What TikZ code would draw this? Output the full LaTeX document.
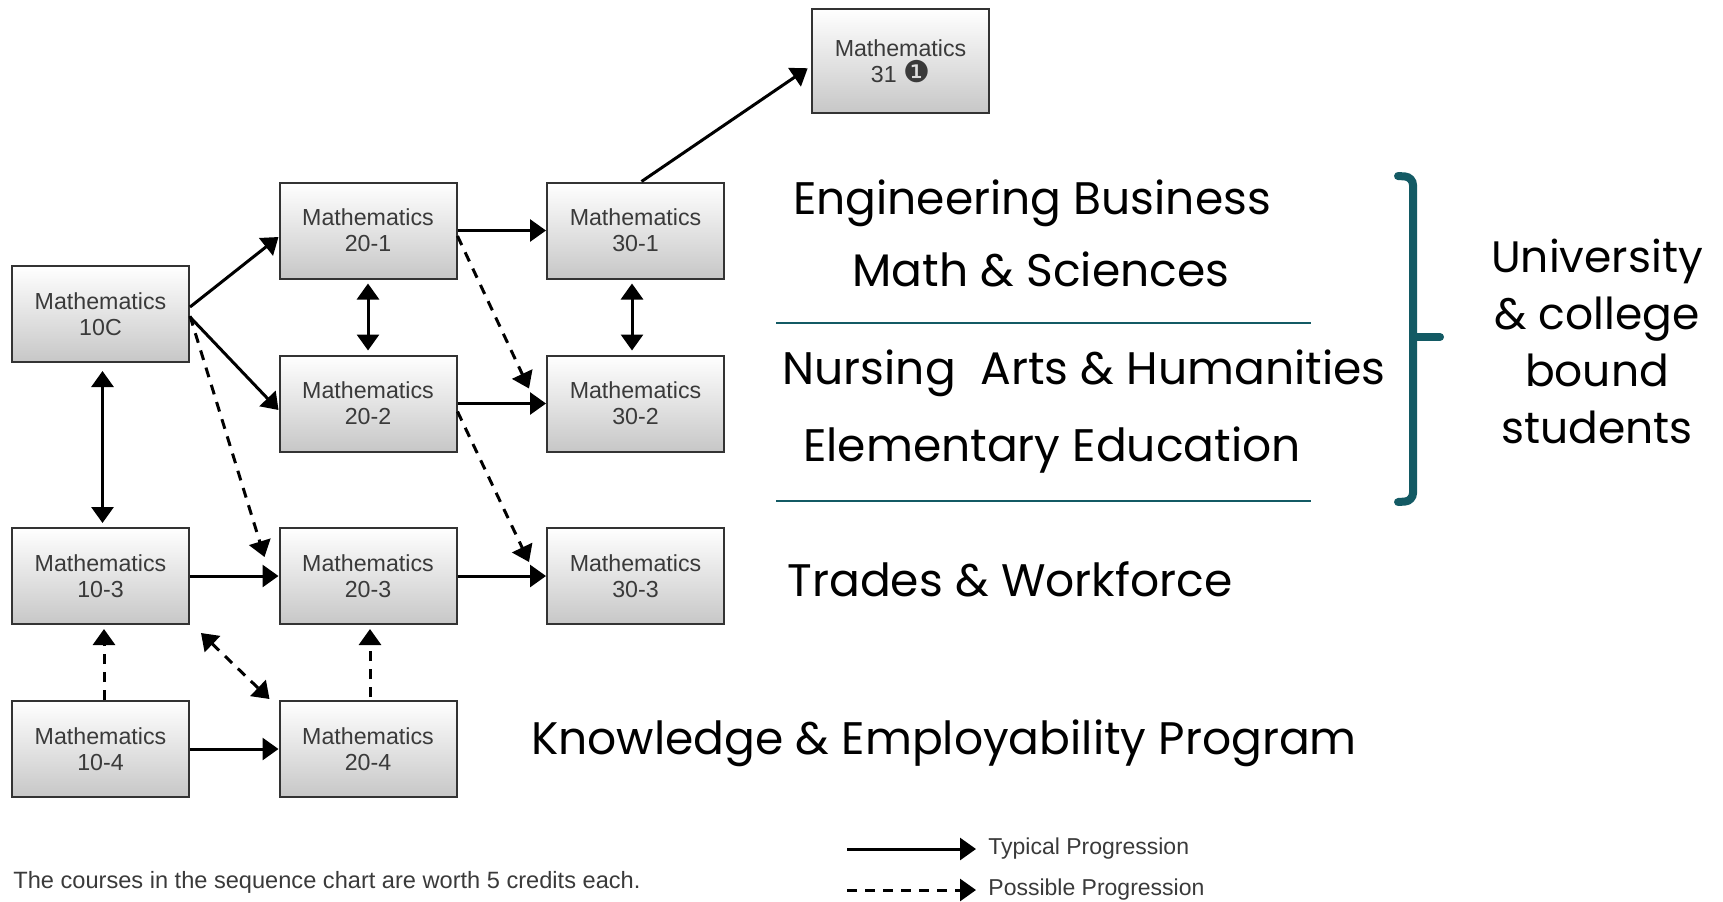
\documentclass[tikz,border=0pt]{standalone}
\usepackage{fontspec}
\setmainfont{Liberation Sans}
\newfontfamily\gothic{Poppins}
\newfontfamily\symb{DejaVu Sans}
\usetikzlibrary{arrows.meta}
\definecolor{bracketteal}{HTML}{135A64}
\definecolor{boxtext}{HTML}{3A3A3A}
\begin{document}
\begin{tikzpicture}[x=0.5pt,y=-0.5pt,
	>={Triangle[length=8pt,width=11pt]},
	course/.style={draw=black!80,line width=1pt,top color=white,bottom color=black!22,
		minimum width=88.5pt,minimum height=48pt,inner sep=0pt,align=center,
		text=boxtext,font=\fontsize{11.6}{13}\selectfont},
	typical/.style={line width=1.5pt,->},
	possible/.style={typical,dash pattern=on 5pt off 4pt},
	stream/.style={inner sep=0pt,font=\gothic\fontsize{22.8}{26}\selectfont},
	legend/.style={anchor=west,inner sep=0pt,text=boxtext,font=\fontsize{11.5}{13}\selectfont}]
\useasboundingbox (0,0) rectangle (1723,901);
% course boxes
\node[course] (m10c) at (100.5,314) {Mathematics\\10C};
\node[course] (m103) at (100.5,576) {Mathematics\\10-3};
\node[course] (m104) at (100.5,749) {Mathematics\\10-4};
\node[course] (m201) at (368,230.5) {Mathematics\\20-1};
\node[course] (m202) at (368,403.5) {Mathematics\\20-2};
\node[course] (m203) at (368,576) {Mathematics\\20-3};
\node[course] (m204) at (368,749) {Mathematics\\20-4};
\node[course] (m301) at (635.5,230.5) {Mathematics\\30-1};
\node[course] (m302) at (635.5,403.5) {Mathematics\\30-2};
\node[course] (m303) at (635.5,576) {Mathematics\\30-3};
\node[course,minimum height=52pt] (m31) at (900.5,61)
	{Mathematics\\31 {\symb\fontsize{15}{13}\selectfont ❶}};
% typical progression
\draw[typical] ([yshift=3.5pt]m10c.east) -- ([yshift=-3.25pt]m201.west);
\draw[typical] ([yshift=-1.5pt]m10c.east) -- ([yshift=-3.25pt]m202.west);
\draw[typical,<->,shorten <=2pt,shorten >=2pt] (m201.south) -- (m202.north);
\draw[typical,<->,shorten <=4pt,shorten >=2pt] ([xshift=1pt]m10c.south) -- ([xshift=1pt]m103.north);
\draw[typical] (m201.east) -- (m301.west);
\draw[typical] (m202.east) -- (m302.west);
\draw[typical,<->,shorten <=2pt,shorten >=2pt] ([xshift=-1.75pt]m301.south) -- ([xshift=-1.75pt]m302.north);
\draw[typical,shorten >=2pt] ([xshift=3pt]m301.north) -- ([yshift=-2.5pt]m31.west);
\draw[typical] (m103.east) -- (m203.west);
\draw[typical] (m203.east) -- (m303.west);
\draw[typical] (m104.east) -- (m204.west);
% possible progression
\draw[possible] ([yshift=-1pt]m10c.east) -- ([shift={(-7pt,-15pt)}]m203.north west);
\draw[possible] ([yshift=-2.75pt]m201.east) -- ([shift={(-8.5pt,-17pt)}]m302.north west);
\draw[possible] ([yshift=-4pt]m202.east) -- ([shift={(-8.5pt,-17.5pt)}]m303.north west);
\draw[possible,shorten >=2pt] ([xshift=1.75pt]m104.north) -- ([xshift=1.75pt]m103.south);
\draw[possible,shorten >=2pt] ([xshift=1pt,yshift=1.5pt]m204.north) -- ([xshift=1pt]m203.south);
\draw[possible,<->] ([shift={(5.5pt,-4pt)}]m103.south east) -- ([shift={(-4.5pt,0.5pt)}]m204.north west);
% pathways
\node[stream] (eng) at (1032,203) {Engineering Business};
\node[stream] (sci) at (1041,269) {Math \& Sciences};
\node[stream] (nurs) at (1084,373) {Nursing\ \ Arts \& Humanities};
\node[stream] (elem) at (1052,450) {Elementary Education};
\node[stream] (trades) at (1010,579) {Trades \& Workforce};
\node[stream] (kep) at (944,743) {Knowledge \& Employability Program};
\node[stream,align=center,font=\gothic\fontsize{22}{28.5}\selectfont] (uni) at (1597,341)
	{University\\\& college\\bound\\students};
\draw[bracketteal,line width=1pt] (776,323) -- (1311,323);
\draw[bracketteal,line width=1pt] (776,501) -- (1311,501);
\draw[bracketteal,line width=4pt,line cap=round,rounded corners=4pt]
	(1398,176) -- (1413,177) -- (1413,501) -- (1398,502);
\draw[bracketteal,line width=4pt,line cap=round] (1413,337) -- (1440,337);
% legend
\node[legend] (typtxt) at (988,849) {Typical Progression};
\node[legend] (postxt) at (988,890) {Possible Progression};
\coordinate (typstart) at (847,849);
\coordinate (posstart) at (847,890);
\draw[typical,shorten >=6pt] (typstart) -- (typtxt.west);
\draw[possible,shorten >=6pt] (posstart) -- (postxt.west);
\node[legend,font=\fontsize{11.8}{13}\selectfont] (note) at (13,882)
	{The courses in the sequence chart are worth 5 credits each.};
\end{tikzpicture}
\end{document}
